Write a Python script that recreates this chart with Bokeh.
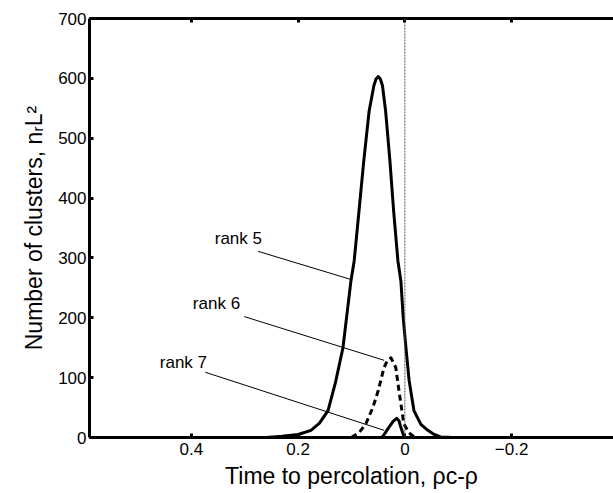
from bokeh.plotting import figure
from bokeh.models import Range1d, LinearAxis, FixedTicker, Span
from bokeh.core.properties import value
from bokeh.embed import file_html
from bokeh.resources import INLINE

# ---- data ----
rank5_x = [0.26, 0.23, 0.20, 0.176, 0.16, 0.144, 0.130, 0.116, 0.101, 0.095, 0.086, 0.077,
           0.067, 0.058, 0.054, 0.050, 0.046, 0.042, 0.036, 0.028, 0.021, 0.013, 0.0075, 0.003,
           -0.002, -0.008, -0.017, -0.03, -0.043, -0.055, -0.067, -0.09]
rank5_y = [0, 2, 5, 12, 24, 45, 92, 150, 262, 295, 378, 462,
           545, 588, 599, 603, 599, 588, 545, 462, 378, 295, 262, 200,
           150, 95, 45, 22, 12, 5, 1, 0]

rank6_x = [0.100, 0.097, 0.086, 0.073, 0.060, 0.050, 0.039, 0.032, 0.026, 0.017, 0.011,
           0.0056, 0.002, -0.0075, -0.017, -0.022]
rank6_y = [0, 2, 8, 23, 50, 78, 117, 130, 133, 117, 78,
           45, 23, 8, 1, 0]

rank7_x = [0.045, 0.041, 0.030, 0.022, 0.0155, 0.011, 0.0075, 0.003, 0.0]
rank7_y = [0, 2, 17, 27, 32, 28, 17, 5, 0]

label_text = ["rank 5", "rank 6", "rank 7"]
label_x = [0.312, 0.353, 0.415]
label_y = [332, 224, 125]
lead_x0 = [0.275, 0.301, 0.374]
lead_y0 = [311, 202, 109]
lead_x1 = [0.101, 0.039, 0.039]
lead_y1 = [264, 129, 12]

x_ticks = [0.4, 0.2, 0.0, -0.2]
x_tick_labels = {0.4: "0.4", 0.2: "0.2", 0.0: "0", -0.2: "-0.2"}
y_ticks = [0, 100, 200, 300, 400, 500, 600, 700]

FONT = "Liberation Sans"

p = figure(width=613, height=493, output_backend="svg", toolbar_location=None,
           x_range=Range1d(0.591, -0.391), y_range=Range1d(0, 700),
           min_border_left=89, min_border_right=0, min_border_top=18, min_border_bottom=56,
           x_axis_label="Time to percolation, ρc-ρ",
           y_axis_label="Number of clusters, nᵣL²")
p.outline_line_color = None
p.grid.visible = False
p.background_fill_color = "white"
p.border_fill_color = "white"

top = LinearAxis()
p.add_layout(top, "above")

for ax in p.axis:
    ax.axis_line_width = 3
    ax.axis_line_color = "black"
    ax.major_tick_line_width = 3
    ax.major_tick_in = 4
    ax.major_tick_out = 0
    ax.minor_tick_line_color = None
    ax.major_label_text_font = FONT
    ax.major_label_text_font_size = "17px"
    ax.major_label_text_color = "black"
    ax.axis_label_text_font = FONT
    ax.axis_label_text_font_size = "23px"
    ax.axis_label_text_font_style = "normal"
    ax.axis_label_text_color = "black"

p.xaxis.ticker = FixedTicker(ticks=x_ticks)
p.xaxis[0].major_label_overrides = x_tick_labels
p.yaxis.ticker = FixedTicker(ticks=y_ticks)
p.xaxis[0].major_label_standoff = 12
p.yaxis[0].major_label_standoff = 3
p.yaxis[0].axis_label_standoff = 8
p.xaxis[0].axis_label_standoff = 0
top.major_label_overrides = {t: "" for t in x_ticks}
top.major_label_standoff = 0

# reference line at percolation
p.add_layout(Span(location=0, dimension="height", line_color="#555555",
                  line_width=1, line_dash="2 1"))

p.line(rank5_x, rank5_y, line_color="black", line_width=3, line_join="round")
p.line(rank6_x, rank6_y, line_color="black", line_width=3, line_dash="6 4", line_join="round")
p.line(rank7_x, rank7_y, line_color="black", line_width=3, line_join="round")

p.segment(x0=lead_x0, y0=lead_y0, x1=lead_x1, y1=lead_y1, line_color="black", line_width=1)
p.text(x=label_x, y=label_y, text=label_text, text_font=value(FONT),
       text_font_size="17px", text_align="center", text_baseline="middle", text_color="black")

open("out.html", "w").write(file_html(p, INLINE))
